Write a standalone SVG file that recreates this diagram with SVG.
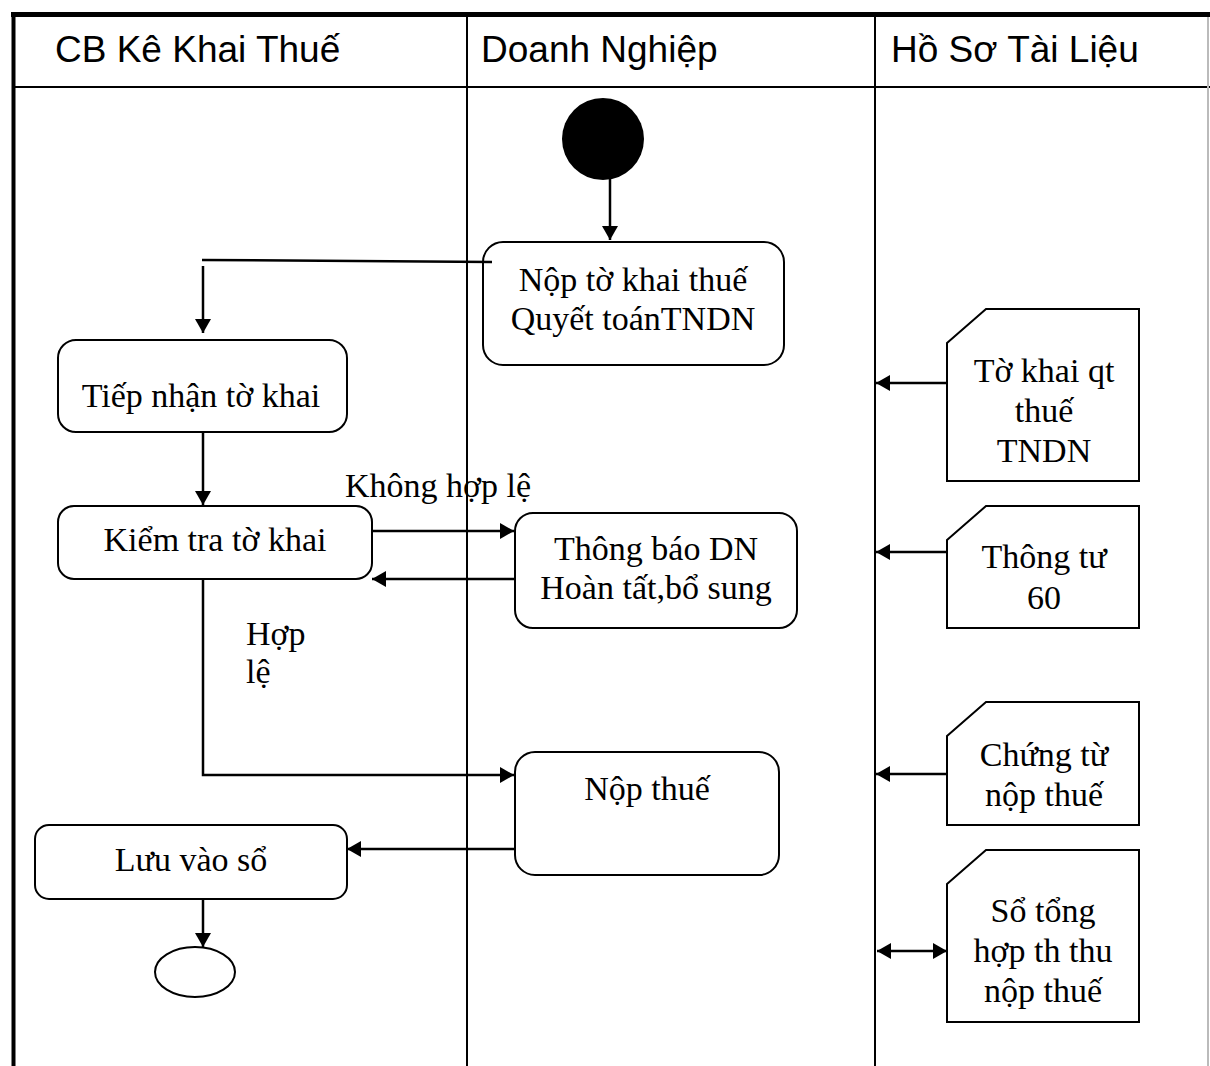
<svg xmlns="http://www.w3.org/2000/svg" width="1210" height="1066" viewBox="0 0 1210 1066">
  <style>
    .lane { stroke: #000; stroke-width: 2; fill: none; }
    .head { font-family: "Liberation Sans", Arial, sans-serif; font-size: 37px; fill: #000; }
    .box { fill: #fff; stroke: #000; stroke-width: 2; }
    .lbl { font-family: "Liberation Serif", "Times New Roman", serif; font-size: 34px; fill: #000; }
    .mid { text-anchor: middle; }
    .edge { stroke: #000; stroke-width: 2.5; fill: none; }
    .arr { marker-end: url(#head); }
  </style>
  <defs>
    <marker id="head" viewBox="0 0 14 16" refX="14" refY="8" markerWidth="14" markerHeight="16" markerUnits="userSpaceOnUse" orient="auto-start-reverse">
      <path d="M0,0 L14,8 L0,16 z" fill="#000"/>
    </marker>
  </defs>

  <rect x="0" y="0" width="1210" height="1066" fill="#fff"/>

  <!-- swimlane frame -->
  <g id="frame">
    <line x1="11" y1="14.5" x2="1210" y2="14.5" stroke="#000" stroke-width="5"/>
    <line x1="13.5" y1="12" x2="13.5" y2="1066" stroke="#000" stroke-width="4"/>
    <line x1="13" y1="87" x2="1210" y2="87" class="lane"/>
    <line x1="467" y1="16" x2="467" y2="1066" class="lane"/>
    <line x1="875" y1="16" x2="875" y2="1066" class="lane"/>
    <line x1="1208" y1="17" x2="1208" y2="1066" stroke="#bbb" stroke-width="2"/>
    <text class="head" x="55" y="62">CB Kê Khai Thuế</text>
    <text class="head" x="481" y="62">Doanh Nghiệp</text>
    <text class="head" x="891" y="62">Hồ Sơ Tài Liệu</text>
  </g>

  <g id="start">
    <circle cx="603" cy="139" r="41" fill="#000"/>
  </g>

  <g id="nop-to-khai">
    <rect class="box" x="483" y="242" width="301" height="123" rx="20"/>
    <text class="lbl mid" x="633" y="291">Nộp tờ khai thuế</text>
    <text class="lbl mid" x="633" y="330">Quyết toánTNDN</text>
  </g>

  <g id="tiep-nhan">
    <rect class="box" x="58" y="340" width="289" height="92" rx="18"/>
    <text class="lbl mid" x="201" y="407">Tiếp nhận tờ khai</text>
  </g>

  <g id="kiem-tra">
    <rect class="box" x="58" y="506" width="314" height="73" rx="16"/>
    <text class="lbl mid" x="215" y="551">Kiểm tra tờ khai</text>
  </g>

  <g id="thong-bao">
    <rect class="box" x="515" y="513" width="282" height="115" rx="18"/>
    <text class="lbl mid" x="656" y="560">Thông báo DN</text>
    <text class="lbl mid" x="656" y="599">Hoàn tất,bổ sung</text>
  </g>

  <g id="nop-thue">
    <rect class="box" x="515" y="752" width="264" height="123" rx="20"/>
    <text class="lbl mid" x="647" y="800">Nộp thuế</text>
  </g>

  <g id="luu-vao-so">
    <rect class="box" x="35" y="825" width="312" height="74" rx="14"/>
    <text class="lbl mid" x="191" y="871">Lưu vào sổ</text>
  </g>

  <g id="end">
    <ellipse cx="195" cy="972" rx="40" ry="25" class="box"/>
  </g>

  <g id="doc-to-khai">
    <path class="box" d="M947,343 L986,309 H1139 V481 H947 Z"/>
    <text class="lbl mid" x="1044" y="382">Tờ khai qt</text>
    <text class="lbl mid" x="1044" y="422">thuế</text>
    <text class="lbl mid" x="1044" y="462">TNDN</text>
  </g>

  <g id="doc-thong-tu">
    <path class="box" d="M947,540 L986,506 H1139 V628 H947 Z"/>
    <text class="lbl mid" x="1044" y="568">Thông tư</text>
    <text class="lbl mid" x="1044" y="609">60</text>
  </g>

  <g id="doc-chung-tu">
    <path class="box" d="M947,736 L986,702 H1139 V825 H947 Z"/>
    <text class="lbl mid" x="1044" y="766">Chứng từ</text>
    <text class="lbl mid" x="1044" y="806">nộp thuế</text>
  </g>

  <g id="doc-so-tong-hop">
    <path class="box" d="M947,884 L986,850 H1139 V1022 H947 Z"/>
    <text class="lbl mid" x="1043" y="922">Sổ tổng</text>
    <text class="lbl mid" x="1043" y="962">hợp th thu</text>
    <text class="lbl mid" x="1043" y="1002">nộp thuế</text>
  </g>

  <!-- connectors, drawn over the nodes -->
  <g id="connectors">
    <line class="edge arr" x1="610" y1="178" x2="610" y2="240"/>
    <line class="edge" x1="492" y1="262" x2="202" y2="260"/>
    <line class="edge arr" x1="203" y1="266" x2="203" y2="333"/>
    <line class="edge arr" x1="203" y1="432" x2="203" y2="505"/>
    <line class="edge arr" x1="372" y1="531" x2="514" y2="531"/>
    <line class="edge arr" x1="514" y1="579" x2="372" y2="579"/>
    <path class="edge arr" d="M203,579 V775 H514"/>
    <line class="edge arr" x1="514" y1="849" x2="347" y2="849"/>
    <line class="edge arr" x1="203" y1="899" x2="203" y2="947"/>
    <line class="edge arr" x1="947" y1="383" x2="876" y2="383"/>
    <line class="edge arr" x1="947" y1="552" x2="876" y2="552"/>
    <line class="edge arr" x1="947" y1="774" x2="876" y2="774"/>
    <line class="edge arr" x1="877" y1="951" x2="947" y2="951" marker-start="url(#head)"/>
    <text class="lbl" x="345" y="497">Không hợp lệ</text>
    <text class="lbl" x="246" y="645">Hợp</text>
    <text class="lbl" x="246" y="683">lệ</text>
  </g>
</svg>
